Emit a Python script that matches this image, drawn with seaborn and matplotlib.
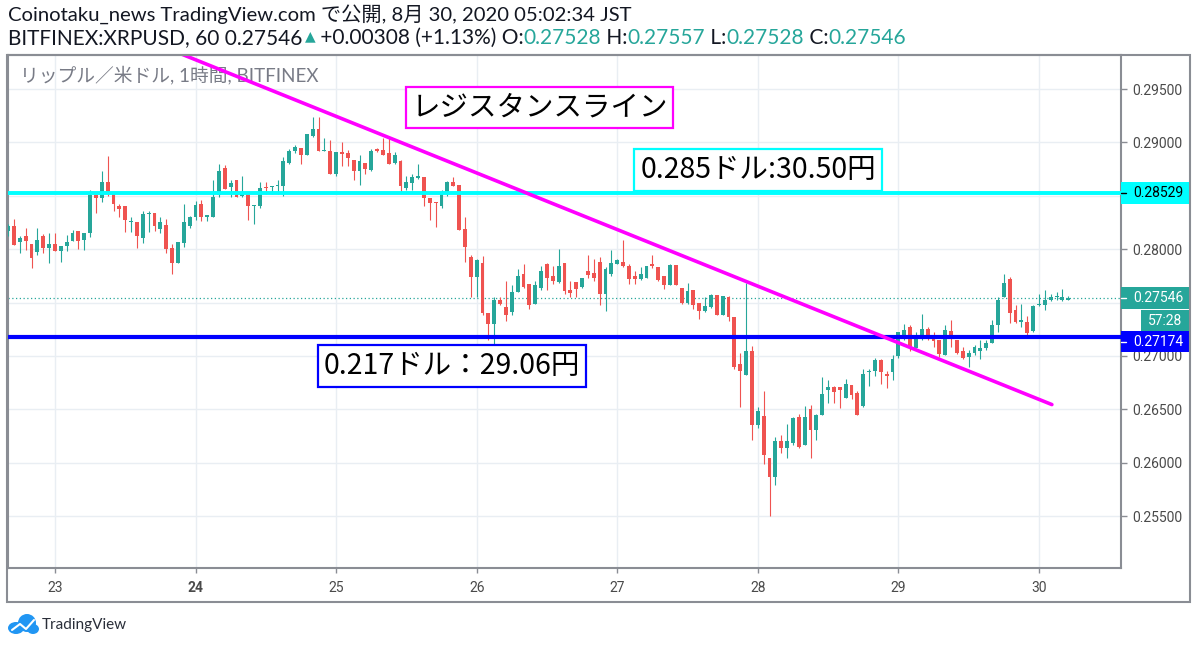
import numpy as np
import pandas as pd
import matplotlib
matplotlib.use("Agg")
import matplotlib.pyplot as plt
import matplotlib.transforms as mtransforms
from matplotlib.patches import Rectangle, Ellipse
import seaborn as sns

# ---------------- data (hourly candles, BITFINEX XRPUSD, 22 Aug 16:00 .. 30 Aug 05:00 JST)
opens = [0.2817, 0.2822, 0.2807, 0.2812, 0.2805, 0.2797, 0.2812, 0.2801, 0.2805, 0.2798,
         0.2803, 0.2808, 0.2817, 0.2809, 0.2815, 0.2851, 0.2848, 0.2863, 0.2852, 0.2840,
         0.2840, 0.2825, 0.2825, 0.2810, 0.2833, 0.2834, 0.2819, 0.2823, 0.2801, 0.2787,
         0.2806, 0.2822, 0.2830, 0.2842, 0.2830, 0.2830, 0.2851, 0.2876, 0.2858, 0.2865,
         0.2850, 0.2853, 0.2840, 0.2840, 0.2858, 0.2858, 0.2859, 0.2859, 0.2881, 0.2892,
         0.2895, 0.2888, 0.2906, 0.2913, 0.2892, 0.2892, 0.2870, 0.2891, 0.2890, 0.2884,
         0.2873, 0.2881, 0.2874, 0.2894, 0.2893, 0.2890, 0.2881, 0.2883, 0.2857, 0.2862,
         0.2867, 0.2868, 0.2848, 0.2844, 0.2840, 0.2853, 0.2863, 0.2860, 0.2819, 0.2793,
         0.2774, 0.2787, 0.2740, 0.2730, 0.2752, 0.2746, 0.2741, 0.2760, 0.2777, 0.2767,
         0.2749, 0.2764, 0.2786, 0.2775, 0.2769, 0.2787, 0.2762, 0.2769, 0.2765, 0.2780,
         0.2778, 0.2788, 0.2758, 0.2777, 0.2786, 0.2788, 0.2784, 0.2775, 0.2772, 0.2773,
         0.2786, 0.2783, 0.2775, 0.2766, 0.2785, 0.2764, 0.2750, 0.2762, 0.2750, 0.2742,
         0.2746, 0.2757, 0.2738, 0.2755, 0.2736, 0.2692, 0.2682, 0.2705, 0.2635, 0.2644,
         0.2604, 0.2587, 0.2620, 0.2614, 0.2618, 0.2643, 0.2617, 0.2650, 0.2631, 0.2645,
         0.2668, 0.2671, 0.2671, 0.2661, 0.2673, 0.2665, 0.2653, 0.2685, 0.2686, 0.2696,
         0.2683, 0.2685, 0.2700, 0.2720, 0.2727, 0.2707, 0.2720, 0.2725, 0.2717, 0.2715,
         0.2701, 0.2723, 0.2715, 0.2705, 0.2699, 0.2703, 0.2705, 0.2707, 0.2712, 0.2729,
         0.2755, 0.2772, 0.2743, 0.2732, 0.2732, 0.2723, 0.2748, 0.2748, 0.2752, 0.2755,
         0.2752, 0.27528]
highs = [0.2824, 0.2828, 0.2812, 0.2820, 0.2805, 0.2820, 0.2814, 0.2815, 0.2815, 0.2803,
         0.2813, 0.2818, 0.2817, 0.2815, 0.2855, 0.2851, 0.2873, 0.2887, 0.2852, 0.2842,
         0.2840, 0.2830, 0.2825, 0.2836, 0.2836, 0.2834, 0.2830, 0.2828, 0.2805, 0.2807,
         0.2842, 0.2831, 0.2845, 0.2846, 0.2832, 0.2865, 0.2880, 0.2879, 0.2865, 0.2865,
         0.2869, 0.2853, 0.2841, 0.2863, 0.2863, 0.2859, 0.2865, 0.2886, 0.2894, 0.2898,
         0.2895, 0.2908, 0.2924, 0.2924, 0.2904, 0.2902, 0.2891, 0.2900, 0.2893, 0.2884,
         0.2888, 0.2881, 0.2894, 0.2895, 0.2904, 0.2904, 0.2891, 0.2884, 0.2869, 0.2870,
         0.2880, 0.2868, 0.2848, 0.2844, 0.2855, 0.2864, 0.2868, 0.2860, 0.2830, 0.2795,
         0.2791, 0.2794, 0.2740, 0.2755, 0.2755, 0.2770, 0.2766, 0.2781, 0.2786, 0.2767,
         0.2770, 0.2784, 0.2787, 0.2784, 0.2800, 0.2787, 0.2770, 0.2769, 0.2773, 0.2795,
         0.2791, 0.2793, 0.2783, 0.2799, 0.2791, 0.2809, 0.2786, 0.2780, 0.2783, 0.2784,
         0.2795, 0.2783, 0.2775, 0.2786, 0.2785, 0.2764, 0.2768, 0.2762, 0.2750, 0.2755,
         0.2758, 0.2757, 0.2756, 0.2756, 0.2736, 0.2703, 0.2768, 0.2709, 0.2652, 0.2667,
         0.2604, 0.2624, 0.2626, 0.2636, 0.2643, 0.2646, 0.2653, 0.2654, 0.2646, 0.2680,
         0.2677, 0.2672, 0.2671, 0.2678, 0.2673, 0.2667, 0.2688, 0.2688, 0.2698, 0.2697,
         0.2686, 0.2701, 0.2722, 0.2730, 0.2729, 0.2722, 0.2739, 0.2727, 0.2722, 0.2715,
         0.2729, 0.2734, 0.2715, 0.2708, 0.2706, 0.2710, 0.2715, 0.2715, 0.2734, 0.2755,
         0.2777, 0.2774, 0.2748, 0.2749, 0.2737, 0.2748, 0.2758, 0.2762, 0.2758, 0.2760,
         0.2763, 0.27557]
lows = [0.2812, 0.2804, 0.2796, 0.2799, 0.2782, 0.2795, 0.2796, 0.2787, 0.2798, 0.2788,
        0.2798, 0.2808, 0.2800, 0.2799, 0.2811, 0.2834, 0.2844, 0.2850, 0.2836, 0.2830,
        0.2816, 0.2816, 0.2801, 0.2806, 0.2816, 0.2817, 0.2815, 0.2796, 0.2777, 0.2787,
        0.2802, 0.2820, 0.2827, 0.2826, 0.2826, 0.2830, 0.2849, 0.2856, 0.2849, 0.2849,
        0.2849, 0.2827, 0.2824, 0.2839, 0.2852, 0.2852, 0.2852, 0.2850, 0.2880, 0.2890,
        0.2880, 0.2888, 0.2905, 0.2892, 0.2892, 0.2870, 0.2869, 0.2878, 0.2878, 0.2865,
        0.2860, 0.2870, 0.2873, 0.2891, 0.2888, 0.2880, 0.2880, 0.2853, 0.2855, 0.2855,
        0.2866, 0.2840, 0.2827, 0.2821, 0.2839, 0.2850, 0.2859, 0.2818, 0.2788, 0.2755,
        0.2755, 0.2738, 0.2715, 0.2705, 0.2748, 0.2733, 0.2738, 0.2760, 0.2764, 0.2744,
        0.2749, 0.2762, 0.2762, 0.2767, 0.2768, 0.2758, 0.2755, 0.2755, 0.2764, 0.2773,
        0.2770, 0.2748, 0.2742, 0.2775, 0.2786, 0.2783, 0.2767, 0.2767, 0.2771, 0.2773,
        0.2782, 0.2770, 0.2763, 0.2766, 0.2766, 0.2749, 0.2749, 0.2744, 0.2735, 0.2741,
        0.2745, 0.2738, 0.2738, 0.2733, 0.2688, 0.2652, 0.2682, 0.2621, 0.2632, 0.2599,
        0.2550, 0.2579, 0.2609, 0.2604, 0.2617, 0.2614, 0.2617, 0.2604, 0.2621, 0.2645,
        0.2656, 0.2656, 0.2651, 0.2661, 0.2660, 0.2645, 0.2652, 0.2672, 0.2681, 0.2674,
        0.2670, 0.2677, 0.2698, 0.2715, 0.2705, 0.2707, 0.2715, 0.2715, 0.2708, 0.2699,
        0.2701, 0.2708, 0.2702, 0.2697, 0.2690, 0.2701, 0.2697, 0.2706, 0.2712, 0.2722,
        0.2755, 0.2731, 0.2731, 0.2727, 0.2720, 0.2722, 0.2747, 0.2743, 0.2751, 0.2752,
        0.2751, 0.27528]
closes = [0.2822, 0.2804, 0.2810, 0.2808, 0.2792, 0.2809, 0.2801, 0.2805, 0.2798, 0.2803,
          0.2807, 0.2815, 0.2808, 0.2815, 0.2851, 0.2848, 0.2863, 0.2852, 0.2842, 0.2838,
          0.2827, 0.2826, 0.2812, 0.2833, 0.2834, 0.2822, 0.2825, 0.2800, 0.2787, 0.2807,
          0.2825, 0.2830, 0.2841, 0.2830, 0.2832, 0.2849, 0.2873, 0.2856, 0.2862, 0.2849,
          0.2852, 0.2840, 0.2841, 0.2857, 0.2857, 0.2859, 0.2860, 0.2883, 0.2892, 0.2896,
          0.2888, 0.2908, 0.2913, 0.2892, 0.2893, 0.2870, 0.2891, 0.2889, 0.2885, 0.2873,
          0.2883, 0.2875, 0.2892, 0.2892, 0.2888, 0.2880, 0.2888, 0.2859, 0.2863, 0.2868,
          0.2869, 0.2848, 0.2843, 0.2843, 0.2853, 0.2863, 0.2859, 0.2818, 0.2802, 0.2774,
          0.2790, 0.2740, 0.2730, 0.2752, 0.2749, 0.2738, 0.2760, 0.2775, 0.2765, 0.2748,
          0.2766, 0.2780, 0.2773, 0.2770, 0.2784, 0.2761, 0.2759, 0.2763, 0.2773, 0.2776,
          0.2773, 0.2758, 0.2781, 0.2787, 0.2790, 0.2784, 0.2772, 0.2772, 0.2777, 0.2784,
          0.2784, 0.2771, 0.2766, 0.2785, 0.2766, 0.2750, 0.2761, 0.2748, 0.2742, 0.2747,
          0.2757, 0.2738, 0.2756, 0.2736, 0.2690, 0.2686, 0.2705, 0.2635, 0.2648, 0.2607,
          0.2587, 0.2620, 0.2614, 0.2620, 0.2642, 0.2615, 0.2643, 0.2631, 0.2645, 0.2664,
          0.2671, 0.2666, 0.2668, 0.2674, 0.2663, 0.2645, 0.2683, 0.2686, 0.2696, 0.2685,
          0.2681, 0.2697, 0.2722, 0.2724, 0.2707, 0.2720, 0.2725, 0.2716, 0.2714, 0.2702,
          0.2724, 0.2716, 0.2703, 0.2698, 0.2703, 0.2708, 0.2707, 0.2712, 0.2729, 0.2752,
          0.2768, 0.2740, 0.2732, 0.2734, 0.2721, 0.2747, 0.2749, 0.2752, 0.2755, 0.27555,
          0.2755, 0.27546]

day_tick_index = [8, 32, 56, 80, 104, 128, 152, 176]
day_labels = ["23", "24", "25", "26", "27", "28", "29", "30"]
price_ticks = [0.255, 0.260, 0.265, 0.270, 0.275, 0.280, 0.285, 0.290, 0.295]
hidden_price_ticks = [0.275, 0.285]   # covered by the price tags in the reference

resistance_x = [29.5, 178.2]
resistance_y = [0.2983, 0.26544]
level_high = 0.28529
level_low = 0.27174
last_price = 0.27546
countdown = "57:28"

title_line1 = "Coinotaku_news TradingView.com で公開, 8月 30, 2020 05:02:34 JST"
symbol_text = "BITFINEX:XRPUSD, 60 0.27546"
change_text = " +0.00308 (+1.13%) O:"
ohlc_labels = [" H:", " L:", " C:"]
ohlc_values = ["0.27528", "0.27557", "0.27528", "0.27546"]
watermark = "リップル／米ドル, 1時間, BITFINEX"
resistance_label = "レジスタンスライン"
high_label = "0.285ドル:30.50円"
low_label = "0.217ドル：29.06円"

# ---------------- style
sns.set_theme(style="white")
plt.rcParams["font.family"] = ["Noto Sans CJK JP", "DejaVu Sans"]

UP = "#26a69a"
DOWN = "#ef5350"
GRID = "#e9eef3"
FRAME = "#8a8d94"
TXT = "#4a4a4a"

df = pd.DataFrame({"open": opens, "high": highs, "low": lows, "close": closes})
df["idx"] = np.arange(len(df))
df["up"] = df["close"] >= df["open"]
colors = np.where(df["up"], UP, DOWN)

W, H = 1200, 647
fig = plt.figure(figsize=(W / 100, H / 100), dpi=100)
ax_left, ax_right, ax_top, ax_bottom = 7.5, 1121, 55, 568
ax = fig.add_axes([ax_left / W, 1 - ax_bottom / H, (ax_right - ax_left) / W, (ax_bottom - ax_top) / H])

ymin, ymax = 0.25013, 0.29819
ax.set_xlim(-0.1, 190.0)
ax.set_ylim(ymin, ymax)

# grid
ax.set_axisbelow(True)
ax.grid(True, color=GRID, lw=1.0)

# candles
ax.vlines(df["idx"], df["low"], df["high"], colors=colors, lw=0.8, zorder=3)
body_h = np.maximum((df["close"] - df["open"]).abs(), 0.00008)
ax.bar(df["idx"], body_h, bottom=np.minimum(df["open"], df["close"]), width=0.66,
       color=colors, lw=0, zorder=3)

# horizontal levels
ax.axhline(level_high, color="#00ffff", lw=2.8, zorder=4)
ax.axhline(level_low, color="#0000ff", lw=3.0, zorder=4)
ax.axhline(last_price, color=UP, lw=0.9, ls=(0, (1, 2)), zorder=2)

# resistance trend line
sns.lineplot(x=resistance_x, y=resistance_y, ax=ax, color="#ff00ff", lw=2.6, zorder=5)

# axes ticks
ax.yaxis.tick_right()
ax.set_yticks(price_ticks)
ax.set_yticklabels(["" if p in hidden_price_ticks else f"{p:.5f}" for p in price_ticks])
ax.set_xticks(day_tick_index)
ax.set_xticklabels(day_labels)
for lab in ax.get_xticklabels():
    if lab.get_text() == "24":
        lab.set_fontweight("bold")
ax.tick_params(axis="y", which="both", right=True, left=False, length=4, width=1,
               color=FRAME, labelcolor=TXT, labelsize=10, pad=4)
ax.tick_params(axis="x", which="both", bottom=True, length=3.5, width=1,
               color=FRAME, labelcolor=TXT, labelsize=10, pad=6)
for lab in ax.get_yticklabels() + ax.get_xticklabels():
    lab.set_family(["Roboto", "DejaVu Sans"])
for s in ax.spines.values():
    s.set_color(FRAME)
    s.set_linewidth(1.5)

# outer frame
fig.add_artist(Rectangle((7 / W, 1 - 602 / H), (1190 - 7) / W, (602 - 55) / H,
                         transform=fig.transFigure, fill=False, ec=FRAME, lw=1.5))

# price axis labels
blend = mtransforms.blended_transform_factory(ax.transAxes, ax.transData)
px_y = (ymax - ymin) / (ax_bottom - ax_top)
ax_w = ax_right - ax_left
def price_tag(value, text, fc, tc, shift_px=0.0, x0_px=ax_right, x1_px=1190, h_px=22):
    yc = value - shift_px * px_y
    x0 = (x0_px - ax_left) / ax_w
    x1 = (x1_px - ax_left) / ax_w
    ax.add_patch(Rectangle((x0, yc - h_px / 2 * px_y), x1 - x0, h_px * px_y,
                           transform=blend, fc=fc, ec="none", clip_on=False, zorder=6))
    ax.text((1133 - ax_left) / ax_w if x0_px == ax_right else (x0_px + 7 - ax_left) / ax_w, yc, text,
            transform=blend, ha="left", va="center", color=tc, fontsize=10,
            family=["Roboto", "DejaVu Sans"], clip_on=False, zorder=7)
    if x0_px == ax_right:
        ax.plot([x0, (1126 - ax_left) / ax_w], [yc, yc], transform=blend, color=tc, lw=1,
                clip_on=False, zorder=7)

price_tag(level_high, f"{level_high:.5f}", "#00ffff", "black")
price_tag(last_price, f"{last_price:.5f}", UP, "white")
price_tag(last_price, countdown, UP, "white", shift_px=23.5, x0_px=1141)
price_tag(level_low, f"{level_low:.5f}", "#0000ff", "white", shift_px=4.5, h_px=21)

# annotation boxes
box_font = ["Noto Sans CJK JP", "DejaVu Sans"]
ax.text((539.5 - ax_left) / ax_w, (ax_bottom - 107.5) / (ax_bottom - ax_top), resistance_label,
        transform=ax.transAxes, ha="center", va="center", fontsize=20.5, color="black",
        family=box_font, zorder=8,
        bbox=dict(boxstyle="square,pad=0.2", fc="white", ec="#ff00ff", lw=1.6))
ax.text((758 - ax_left) / ax_w, (ax_bottom - 170) / (ax_bottom - ax_top), high_label,
        transform=ax.transAxes, ha="center", va="center", fontsize=20.5, color="black",
        family=box_font, zorder=8,
        bbox=dict(boxstyle="square,pad=0.2", fc="white", ec="#00ffff", lw=1.6))
ax.text((452 - ax_left) / ax_w, (ax_bottom - 366) / (ax_bottom - ax_top), low_label,
        transform=ax.transAxes, ha="center", va="center", fontsize=20.5, color="black",
        family=box_font, zorder=8,
        bbox=dict(boxstyle="square,pad=0.2", fc="white", ec="#0000ff", lw=1.6))

# watermark
ax.text((20 - ax_left) / ax_w, (ax_bottom - 75) / (ax_bottom - ax_top), watermark,
        transform=ax.transAxes, ha="left", va="center", fontsize=13.5, color="#787b86",
        family=["Lato", "Noto Sans CJK JP", "DejaVu Sans"], zorder=1)

# header
hdr_font = ["Lato", "Noto Sans CJK JP", "DejaVu Sans"]
DARK = "#131722"
HS = 14.6
t1 = fig.text(8 / W, 1 - 14 / H, title_line1, ha="left", va="center", fontsize=HS,
              color=DARK, family=hdr_font)
first = fig.text(8 / W, 1 - 38 / H, symbol_text, ha="left", va="center", fontsize=15,
                 color=DARK, family=hdr_font)
tri = ax.annotate("▲", xy=(1, 0), xycoords=(first, first), xytext=(1.5, 3.5), textcoords="offset points",
                  ha="left", va="bottom", fontsize=10, color=UP, family=["DejaVu Sans"],
                  annotation_clip=False)
segs = [(change_text, DARK), (ohlc_values[0], UP)]
for lab, val in zip(ohlc_labels, ohlc_values[1:]):
    segs += [(lab, DARK), (val, UP)]
prev = tri
for txt, col in segs:
    prev = ax.annotate(txt, xy=(1, 0), xycoords=(prev, first), xytext=(0, 0), textcoords="offset points",
                       ha="left", va="bottom", fontsize=15, color=col, family=hdr_font,
                       annotation_clip=False)

# TradingView logo
logo_c = "#2196f3"
for (cx, cy, ew, eh) in [(16, 628, 16, 12), (27, 623, 18, 18), (33, 629, 12, 10)]:
    fig.add_artist(Ellipse((cx / W, 1 - cy / H), ew / W, eh / H, transform=fig.transFigure,
                           fc=logo_c, ec="none"))
fig.add_artist(plt.Line2D([12 / W, 20 / W, 26 / W, 34 / W], [1 - 630 / H, 1 - 624 / H, 1 - 629 / H, 1 - 620 / H],
                          transform=fig.transFigure, color="white", lw=1.5))
fig.text(42 / W, 1 - 625 / H, "TradingView", ha="left", va="center", fontsize=11,
         color="#2a2e39", family=["Lato", "DejaVu Sans"])

fig.savefig("out.png", dpi=100)
